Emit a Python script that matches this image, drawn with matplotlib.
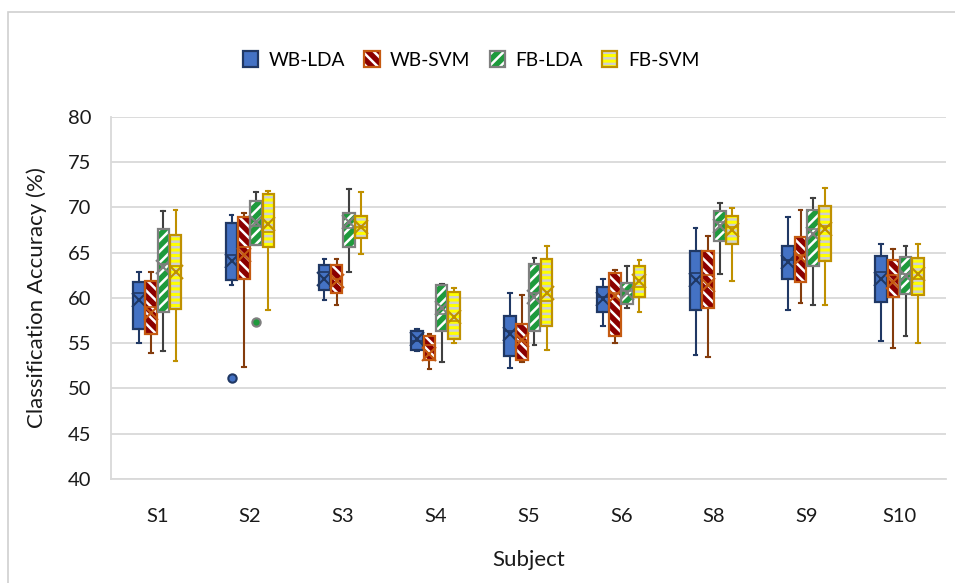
import numpy as np
import matplotlib
matplotlib.use("Agg")
import matplotlib.pyplot as plt
from matplotlib.patches import PathPatch, Patch, Rectangle

plt.rcParams['font.family'] = ['Lato', 'DejaVu Sans']
plt.rcParams['hatch.linewidth'] = 1.8

subjects = ['S1', 'S2', 'S3', 'S4', 'S5', 'S6', 'S8', 'S9', 'S10']
methods = ['WB-LDA', 'WB-SVM', 'FB-LDA', 'FB-SVM']

# box statistics (per subject)
wb_lda_lo = [55.0, 61.4, 59.8, 54.1, 52.3, 56.9, 53.75, 58.7, 55.2]
wb_lda_q1 = [56.6, 62.0, 60.9, 54.2, 53.6, 58.5, 58.7, 62.1, 59.55]
wb_lda_med = [60.5, 64.8, 62.85, 55.3, 56.4, 60.1, 62.8, 64.15, 62.85]
wb_lda_q3 = [61.75, 68.3, 63.7, 56.4, 58.0, 61.2, 65.15, 65.7, 64.6]
wb_lda_hi = [62.9, 69.2, 64.3, 56.6, 60.5, 62.05, 67.75, 68.9, 66.0]
wb_lda_mean = [59.8, 64.1, 62.1, 55.5, 56.0, 59.9, 62.0, 64.0, 62.1]
wb_lda_out = [[], [51.2], [], [], [], [], [], [], []]

wb_svm_lo = [53.9, 52.35, 59.2, 52.2, 52.9, 55.0, 53.45, 59.5, 54.45]
wb_svm_q1 = [56.0, 62.05, 60.6, 53.2, 53.1, 55.85, 58.9, 61.75, 60.1]
wb_svm_med = [59.0, 65.6, 62.1, 54.8, 55.3, 60.5, 62.5, 64.7, 62.5]
wb_svm_q3 = [61.9, 68.9, 63.6, 55.85, 57.1, 62.75, 65.15, 66.7, 64.15]
wb_svm_hi = [62.9, 69.4, 64.3, 56.0, 60.35, 63.1, 66.8, 69.75, 65.45]
wb_svm_mean = [58.3, 64.7, 61.9, 53.8, 55.4, 60.2, 61.4, 64.4, 61.75]
wb_svm_out = [[], [], [], [], [], [], [], [], []]

fb_lda_lo = [54.1, 65.9, 62.85, 52.9, 54.85, 58.9, 62.7, 59.2, 55.75]
fb_lda_q1 = [58.5, 65.9, 65.6, 56.4, 56.4, 59.3, 66.25, 63.5, 60.45]
fb_lda_med = [63.8, 68.0, 67.7, 58.25, 60.5, 60.8, 68.4, 67.65, 62.7]
fb_lda_q3 = [67.65, 70.7, 69.4, 61.4, 63.8, 61.7, 69.6, 69.75, 64.5]
fb_lda_hi = [69.6, 71.7, 72.0, 61.6, 64.45, 63.5, 70.5, 71.0, 65.8]
fb_lda_mean = [63.4, 68.4, 68.4, 58.9, 60.1, 60.6, 68.0, 67.1, 62.4]
fb_lda_out = [[], [57.4], [], [], [], [], [], [], []]

fb_svm_lo = [53.0, 58.7, 64.9, 55.05, 54.2, 58.4, 61.9, 59.2, 55.0]
fb_svm_q1 = [58.8, 65.6, 66.65, 55.5, 56.9, 60.1, 66.0, 64.1, 60.35]
fb_svm_med = [63.5, 67.3, 67.9, 57.5, 59.7, 61.2, 67.8, 68.0, 62.1]
fb_svm_q3 = [67.0, 71.5, 69.05, 60.65, 64.3, 63.5, 69.1, 70.2, 64.45]
fb_svm_hi = [69.75, 71.8, 71.7, 61.1, 65.7, 64.2, 69.9, 72.1, 66.0]
fb_svm_mean = [62.9, 68.2, 67.9, 57.9, 60.5, 61.9, 67.5, 67.65, 62.7]
fb_svm_out = [[], [], [], [], [], [], [], [], []]

data = [
    (wb_lda_lo, wb_lda_q1, wb_lda_med, wb_lda_q3, wb_lda_hi, wb_lda_mean, wb_lda_out),
    (wb_svm_lo, wb_svm_q1, wb_svm_med, wb_svm_q3, wb_svm_hi, wb_svm_mean, wb_svm_out),
    (fb_lda_lo, fb_lda_q1, fb_lda_med, fb_lda_q3, fb_lda_hi, fb_lda_mean, fb_lda_out),
    (fb_svm_lo, fb_svm_q1, fb_svm_med, fb_svm_q3, fb_svm_hi, fb_svm_mean, fb_svm_out),
]

# face, hatch colour, hatch, outline, whisker colour
styles = [
    ('#4472C4', '#4472C4', None, '#203864', '#203864'),
    ('#8B0000', 'white', '\\\\\\', '#C55A11', '#843C0C'),
    ('#1E9A3C', 'white', '///', '#7F7F7F', '#404040'),
    ('#FFFF00', '#CFCFCF', '---', '#BF9000', '#BF9000'),
]
offsets = [-0.2, -0.068, 0.064, 0.196]
width = 0.125

fig = plt.figure(figsize=(9.55, 5.83), dpi=100)
ax = fig.add_axes([111 / 955, 1 - 479 / 583, 835 / 955, 362 / 583])

x = np.arange(len(subjects))
handles = []
for k, d in enumerate(data):
    lo, q1, med, q3, hi, mean, out = d
    face, hcol, hatch, edge, wcol = styles[k]
    stats = []
    for i in range(len(subjects)):
        stats.append(dict(whislo=lo[i], q1=q1[i], med=med[i], q3=q3[i],
                          whishi=hi[i], mean=mean[i], fliers=out[i]))
    bp = ax.bxp(stats, positions=x + offsets[k], widths=width,
                patch_artist=True, showmeans=True, capwidths=0.04,
                boxprops=dict(facecolor=face, edgecolor=hcol, linewidth=0,
                              hatch=hatch),
                medianprops=dict(color=edge, linewidth=1.2),
                whiskerprops=dict(color=wcol, linewidth=1.5),
                capprops=dict(color=wcol, linewidth=1.5),
                meanprops=dict(marker='x', markeredgecolor=edge,
                               markersize=10, markeredgewidth=1.5),
                flierprops=dict(marker='o', markerfacecolor=face,
                                markeredgecolor=edge, markersize=6,
                                markeredgewidth=1.5))
    for box in bp['boxes']:
        ax.add_patch(PathPatch(box.get_path(), fill=False, edgecolor=edge,
                               linewidth=1.6, zorder=box.get_zorder() + 0.1))
    h_fill = Patch(facecolor=face, edgecolor=hcol, linewidth=0, hatch=hatch)
    h_edge = Patch(fill=False, edgecolor=edge, linewidth=1.6)
    handles.append((h_fill, h_edge))

ax.set_xlim(-0.5, len(subjects) - 0.5)
ax.set_ylim(40, 80)
ax.set_yticks(np.arange(40, 81, 5))
ax.set_xticks(x)
ax.set_xticklabels(subjects)
ax.tick_params(length=0, labelsize=14.5, labelcolor='#1a1a1a')
ax.tick_params(axis='x', pad=21)
ax.tick_params(axis='y', pad=14)
ax.yaxis.grid(True, color='#D9D9D9', linewidth=1.3)
ax.set_axisbelow(True)
for s in ['top', 'right']:
    ax.spines[s].set_visible(False)
for s in ['left', 'bottom']:
    ax.spines[s].set_color('#D9D9D9')
    ax.spines[s].set_linewidth(1.3)

fig.text(37 / 955, 1 - 298 / 583, 'Classification Accuracy (%)', rotation=90,
         ha='center', va='center', fontsize=16, color='#1a1a1a')
fig.text(529 / 955, 1 - 560 / 583, 'Subject', ha='center', va='center',
         fontsize=16, color='#1a1a1a')

fig.legend(handles, methods, loc='center', bbox_to_anchor=(471 / 955, 1 - 60 / 583),
           ncol=4, frameon=False, fontsize=13.8, handlelength=0.8,
           handleheight=0.9, handletextpad=0.55, columnspacing=1.0)

# light outer frame of the chart
fig.patches.append(Rectangle((8 / 955, -0.05), 1.2, 1 - 12 / 583 + 0.05,
                             transform=fig.transFigure, fill=False,
                             edgecolor='#D0D0D0', linewidth=1.2))

fig.savefig('out.png', dpi=100)
